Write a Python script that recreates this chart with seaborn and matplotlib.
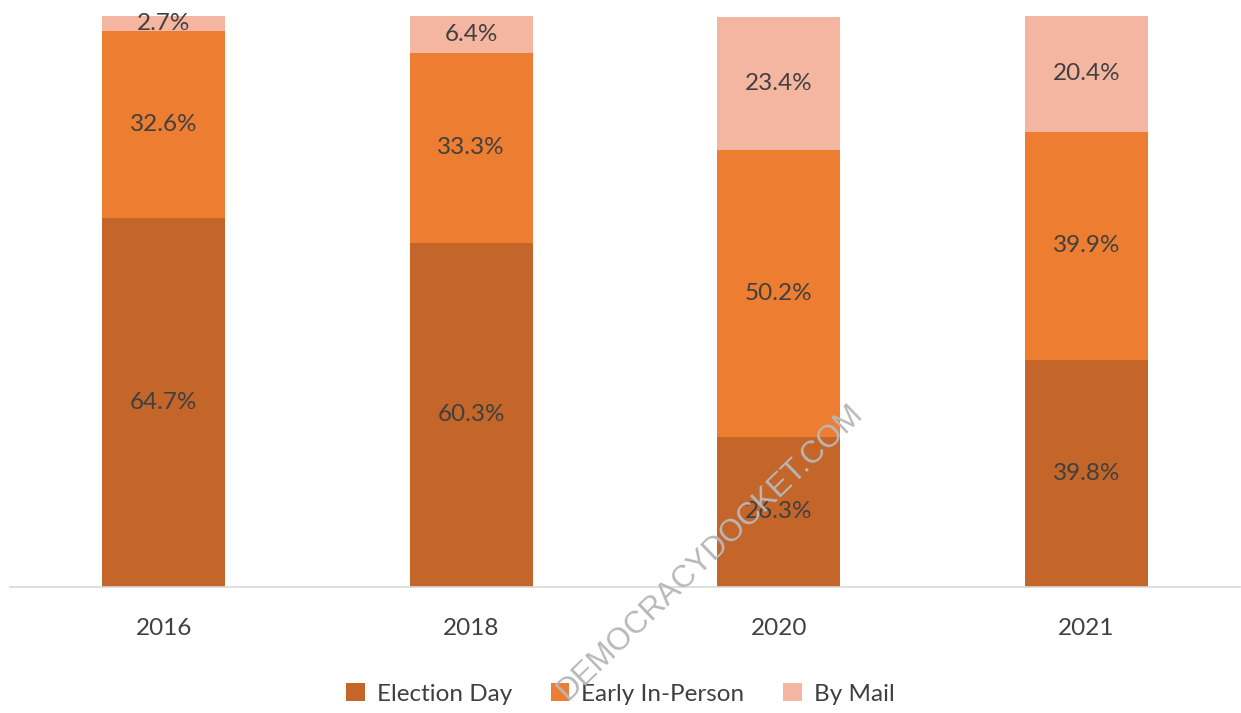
import matplotlib
matplotlib.use("Agg")
import matplotlib.pyplot as plt
import seaborn as sns
import pandas as pd
from matplotlib.patches import Patch

years = ["2016", "2018", "2020", "2021"]
election_day = [64.7, 60.3, 26.3, 39.8]
early_in_person = [32.6, 33.3, 50.2, 39.9]
by_mail = [2.7, 6.4, 23.4, 20.4]
series_names = ["Election Day", "Early In-Person", "By Mail"]
colors = ["#C4652A", "#ED7D31", "#F4B6A0"]

sns.set_theme(style="white")
plt.rcParams['font.family'] = ['Lato', 'DejaVu Sans']

df = pd.DataFrame({"year": years, "ed": election_day, "ei": early_in_person, "bm": by_mail})

fig = plt.figure(figsize=(12.41, 7.13), dpi=100)
ax = fig.add_axes([10/1241, 126/713, 1230/1241, 571/713])

bottoms = [0.0] * len(years)
for col, name, c in zip(["ed", "ei", "bm"], series_names, colors):
    sns.barplot(data=df, x="year", y=col, color=c, width=0.4, bottom=bottoms,
                ax=ax, saturation=1, edgecolor="none", linewidth=0)
    for i, v in enumerate(df[col]):
        ax.text(i, bottoms[i] + v / 2, f"{v:.1f}%", ha="center", va="center",
                fontsize=17.5, color="#404040")
    bottoms = [b + v for b, v in zip(bottoms, df[col])]

ax.set_xlim(-0.5, 3.5)
ax.set_ylim(0, 100)
ax.set_xlabel("")
ax.set_ylabel("")
ax.set_yticks([])
for s in ["top", "left", "right"]:
    ax.spines[s].set_visible(False)
ax.spines["bottom"].set_color("#D9D9D9")
ax.spines["bottom"].set_linewidth(1.2)
ax.tick_params(axis="x", length=0, pad=22, labelsize=17.5, labelcolor="#404040")

handles = [Patch(facecolor=c, edgecolor="none") for c in colors]
fig.legend(handles, series_names, loc="center", bbox_to_anchor=(0.5, 1 - 694/713),
           ncol=3, frameon=False, fontsize=17.5, labelcolor="#404040",
           handlelength=0.75, handleheight=0.75, handletextpad=0.5, columnspacing=1.6)

fig.text(0.572, 0.226, "DEMOCRACYDOCKET.COM", rotation=44, ha="center", va="center",
         fontsize=22.5, color="#B8B8B8", family=["Liberation Sans", "DejaVu Sans"],
         zorder=10)

fig.savefig("out.png", dpi=100)
